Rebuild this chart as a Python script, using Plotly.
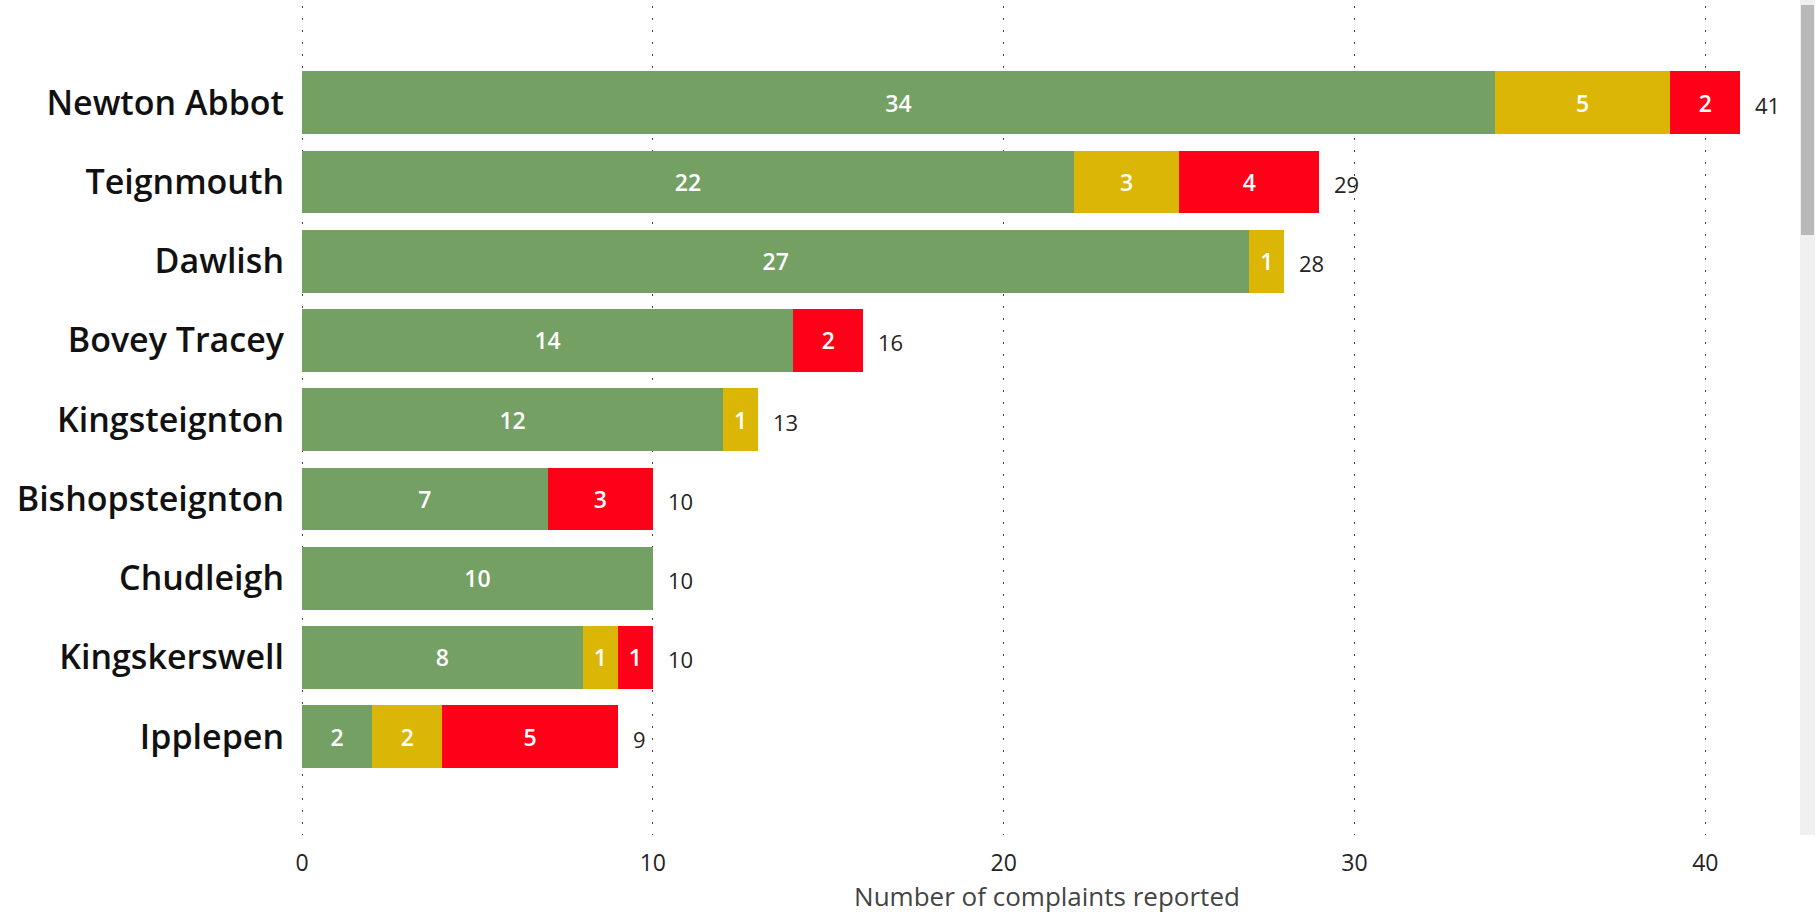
import plotly.graph_objects as go

categories = ["Newton Abbot", "Teignmouth", "Dawlish", "Bovey Tracey", "Kingsteignton",
              "Bishopsteignton", "Chudleigh", "Kingskerswell", "Ipplepen"]
green_vals = [34, 22, 27, 14, 12, 7, 10, 8, 2]
amber_vals = [5, 3, 1, 0, 1, 0, 0, 1, 2]
red_vals = [2, 4, 0, 2, 0, 3, 0, 1, 5]
x_ticks = [0, 10, 20, 30, 40]
axis_title = "Number of complaints reported"

colors = {"green": "#74A064", "amber": "#DBB606", "red": "#FF0019"}

fig = go.Figure()
for name, vals in [("green", green_vals), ("amber", amber_vals), ("red", red_vals)]:
    fig.add_trace(go.Bar(
        y=categories, x=vals, orientation="h", name=name,
        marker=dict(color=colors[name], line=dict(width=0)),
        text=[str(v) if v else "" for v in vals],
        textposition="inside", insidetextanchor="middle",
        textfont=dict(family="Open Sans", size=23, color="white", weight=600),
        hoverinfo="x+y", showlegend=False,
    ))

totals = [g + a + r for g, a, r in zip(green_vals, amber_vals, red_vals)]
annotations = [
    dict(x=t, y=c, xref="x", yref="y", text=str(t), showarrow=False,
         xanchor="left", yanchor="middle", xshift=13, yshift=-2,
         font=dict(family="Open Sans", size=22, color="#252423"))
    for c, t in zip(categories, totals)
]

fig.update_layout(
    barmode="stack", bargap=0.21,
    width=1818, height=915,
    margin=dict(l=301, r=25, t=6, b=80),
    plot_bgcolor="white", paper_bgcolor="white",
    uniformtext=dict(minsize=10, mode="show"),
    annotations=annotations,
    xaxis=dict(
        range=[-0.03, 42.5], tickvals=x_ticks, showgrid=True,
        gridcolor="#444444", griddash="2px,10px", gridwidth=1,
        zeroline=False, showline=False,
        tickfont=dict(family="Open Sans", size=23, color="#252423"),
        ticklabelstandoff=12,
        automargin=False,
        title=dict(text=axis_title, standoff=6,
                   font=dict(family="Open Sans", size=26, color="#444444")),
    ),
    yaxis=dict(
        range=[9.24, -1.22], showgrid=False, zeroline=False, showline=False,
        tickfont=dict(family="Open Sans", size=34, color="#111111", weight=600),
        ticklabelstandoff=16, ticks="", automargin=False,
    ),
)

# scrollbar imitation (pixel-based, in paper coords)
pw = 1818 - 301 - 25
ph = 915 - 6 - 80
def px_x(p):
    return (p - 301) / pw
def px_y(p):
    return (915 - 80 - p) / ph
fig.add_shape(type="rect", xref="paper", yref="paper",
              x0=px_x(1800), x1=px_x(1815), y0=px_y(835), y1=px_y(0),
              fillcolor="#F0F0F0", line=dict(width=0), layer="below")
fig.add_shape(type="rect", xref="paper", yref="paper",
              x0=px_x(1801), x1=px_x(1814), y0=px_y(235), y1=px_y(5),
              fillcolor="#B8B8B8", line=dict(width=0), layer="above")

fig.write_html("out.html")
